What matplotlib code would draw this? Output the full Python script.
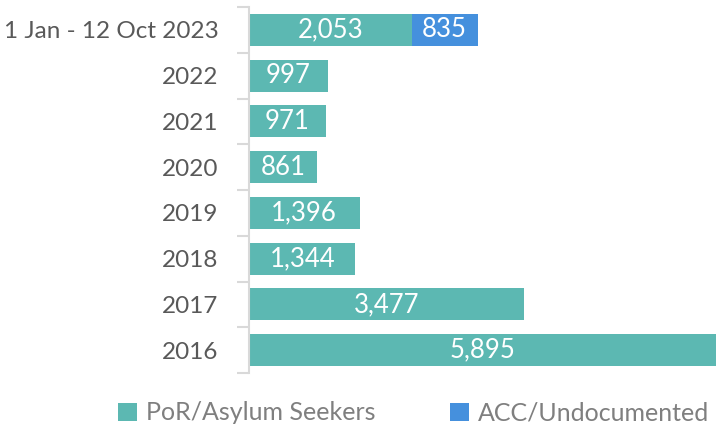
import matplotlib
matplotlib.use("Agg")
import matplotlib.pyplot as plt
from matplotlib.ticker import FixedLocator

categories = ["1 Jan - 12 Oct 2023", "2022", "2021", "2020", "2019", "2018", "2017", "2016"]
por_asylum = [2053, 997, 971, 861, 1396, 1344, 3477, 5895]
acc_undoc = [835, 0, 0, 0, 0, 0, 0, 0]
series_names = ["PoR/Asylum Seekers", "ACC/Undocumented"]

teal = "#5cb8b2"
blue = "#4590dd"
text_col = "#595959"
font = "Lato"

plt.rcParams["font.family"] = [font, "DejaVu Sans"]

fig = plt.figure(figsize=(7.16, 4.25), dpi=100)
ax = fig.add_axes([249/716, 1 - 373/425, 1 - 249/716, 366/425])

y = list(range(len(categories)))
b1 = ax.barh(y, por_asylum, height=0.7, color=teal, label=series_names[0])
b2 = ax.barh(y, acc_undoc, left=por_asylum, height=0.7, color=blue, label=series_names[1])

for rect, v in zip(b1, por_asylum):
    if v > 0:
        ax.text(rect.get_x() + rect.get_width()/2, rect.get_y() + rect.get_height()/2,
                f"{v:,}", ha="center", va="center", color="white", fontsize=18.5)
for rect, v in zip(b2, acc_undoc):
    if v > 0:
        ax.text(rect.get_x() + rect.get_width()/2, rect.get_y() + rect.get_height()/2,
                f"{v:,}", ha="center", va="center", color="white", fontsize=18.5)

ax.set_xlim(0, 5895)
ax.set_ylim(len(categories) - 0.5, -0.5)
ax.set_yticks(y)
ax.set_yticklabels(categories, fontsize=17.5, color=text_col)
ax.tick_params(axis="y", which="major", length=0, pad=22)
ax.yaxis.set_minor_locator(FixedLocator([i - 0.5 for i in range(len(categories) + 1)]))
ax.tick_params(axis="y", which="minor", length=9, color="#d9d9d9", width=1.5)
ax.set_xticks([])
for s in ["top", "right", "bottom"]:
    ax.spines[s].set_visible(False)
ax.spines["left"].set_color("#d9d9d9")
ax.spines["left"].set_linewidth(1.5)

fig.legend(handles=[b1, b2], labels=series_names, loc="center", bbox_to_anchor=(0.578, 1 - 413/425),
           ncol=2, frameon=False, fontsize=18, labelcolor="#7f7f7f", handlelength=0.75,
           handleheight=0.75, handletextpad=0.35, columnspacing=3.0)

fig.savefig("out.png", dpi=100)
